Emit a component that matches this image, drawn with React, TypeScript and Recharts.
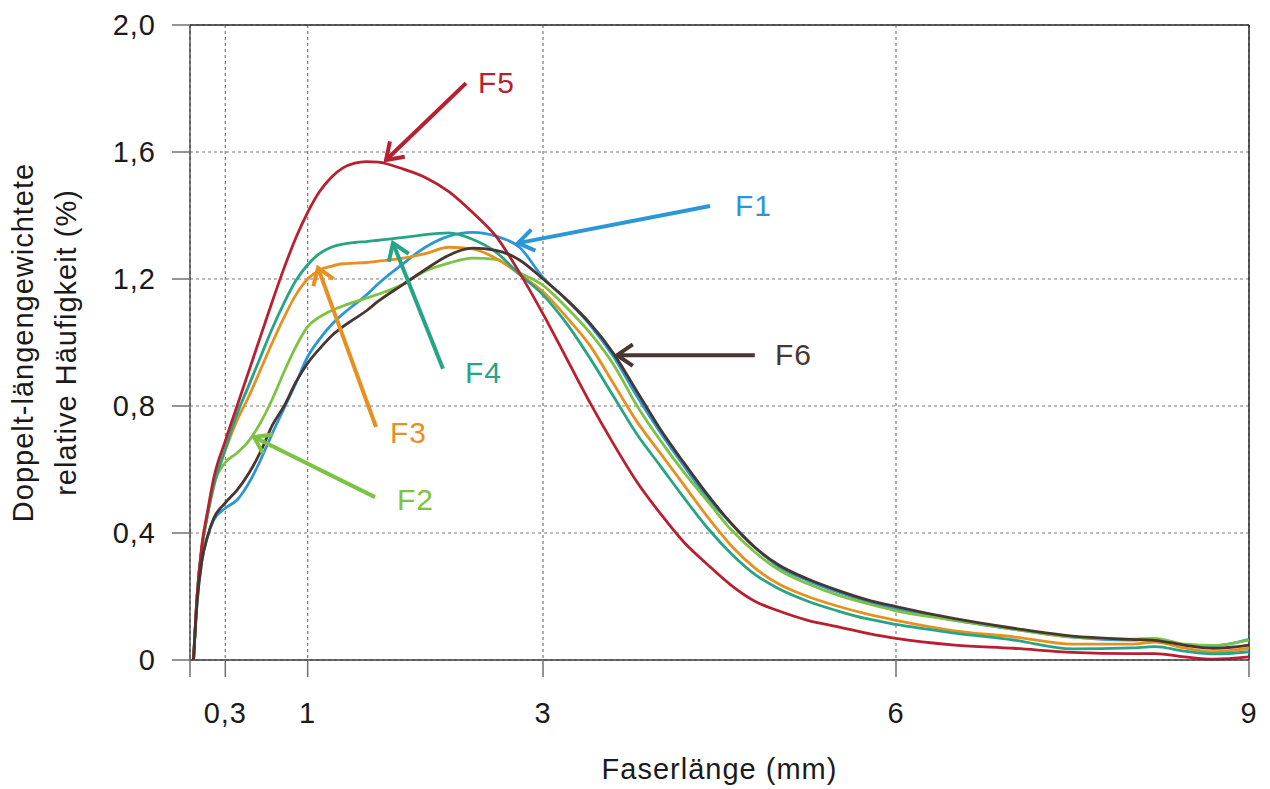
import React from 'react';
import { LineChart, Line, XAxis, YAxis, CartesianGrid, ReferenceLine, ReferenceDot, Label } from 'recharts';

// ---------- data ----------
const fiberLength = [0.03, 0.06, 0.1, 0.15, 0.2, 0.3, 0.4, 0.5, 0.6, 0.7, 0.8, 0.9, 1.0, 1.1, 1.2, 1.3, 1.4, 1.5, 1.6, 1.8, 2.0, 2.2, 2.4, 2.6, 2.8, 3.0, 3.2, 3.4, 3.6, 3.8, 4.0, 4.2, 4.4, 4.6, 4.8, 5.0, 5.25, 5.5, 5.75, 6.0, 6.5, 7.0, 7.5, 8.0, 8.2, 8.45, 8.7, 9.0];

const F1 = [0, 0.18, 0.31, 0.39, 0.44, 0.478, 0.504, 0.557, 0.63, 0.714, 0.793, 0.872, 0.955, 1.01, 1.055, 1.09, 1.12, 1.15, 1.185, 1.245, 1.3, 1.335, 1.347, 1.335, 1.3, 1.205, 1.135, 1.055, 0.955, 0.83, 0.715, 0.61, 0.51, 0.43, 0.355, 0.295, 0.25, 0.215, 0.185, 0.16, 0.125, 0.097, 0.072, 0.063, 0.064, 0.048, 0.045, 0.065];
const F2 = [0, 0.2, 0.35, 0.46, 0.55, 0.622, 0.652, 0.69, 0.748, 0.822, 0.908, 0.987, 1.05, 1.08, 1.1, 1.115, 1.128, 1.14, 1.152, 1.182, 1.225, 1.25, 1.266, 1.262, 1.22, 1.18, 1.11, 1.03, 0.93, 0.8, 0.69, 0.59, 0.5, 0.41, 0.34, 0.285, 0.24, 0.205, 0.178, 0.155, 0.125, 0.097, 0.072, 0.066, 0.068, 0.05, 0.046, 0.063];
const F3 = [0, 0.2, 0.35, 0.46, 0.545, 0.66, 0.755, 0.83, 0.915, 1.0, 1.08, 1.15, 1.2, 1.228, 1.24, 1.248, 1.25, 1.252, 1.256, 1.265, 1.28, 1.3, 1.295, 1.265, 1.215, 1.16, 1.08, 0.99, 0.87, 0.75, 0.65, 0.55, 0.45, 0.36, 0.29, 0.24, 0.2, 0.17, 0.145, 0.125, 0.092, 0.073, 0.05, 0.05, 0.056, 0.038, 0.026, 0.037];
const F4 = [0, 0.2, 0.35, 0.46, 0.546, 0.665, 0.775, 0.865, 0.955, 1.045, 1.125, 1.195, 1.245, 1.28, 1.3, 1.31, 1.315, 1.318, 1.322, 1.33, 1.34, 1.345, 1.325, 1.285, 1.215, 1.15, 1.06, 0.95, 0.83, 0.71, 0.61, 0.51, 0.415, 0.335, 0.27, 0.225, 0.185, 0.155, 0.13, 0.112, 0.085, 0.063, 0.035, 0.038, 0.042, 0.028, 0.019, 0.026];
const F5 = [0, 0.2, 0.36, 0.47, 0.57, 0.69, 0.8, 0.91, 1.02, 1.13, 1.235, 1.33, 1.41, 1.475, 1.52, 1.55, 1.565, 1.57, 1.568, 1.548, 1.52, 1.475, 1.41, 1.335, 1.22, 1.09, 0.95, 0.81, 0.68, 0.56, 0.46, 0.37, 0.3, 0.235, 0.185, 0.155, 0.125, 0.105, 0.085, 0.068, 0.047, 0.037, 0.024, 0.02, 0.02, 0.01, 0.003, 0.01];
const F6 = [0, 0.18, 0.31, 0.39, 0.445, 0.495, 0.535, 0.588, 0.656, 0.74, 0.8, 0.875, 0.935, 0.98, 1.02, 1.05, 1.075, 1.1, 1.13, 1.18, 1.23, 1.275, 1.297, 1.29, 1.26, 1.2, 1.135, 1.06, 0.965, 0.845, 0.725, 0.62, 0.52, 0.43, 0.355, 0.3, 0.255, 0.22, 0.19, 0.168, 0.13, 0.1, 0.075, 0.065, 0.062, 0.047, 0.037, 0.047];

const seriesNames = ['F1', 'F2', 'F3', 'F4', 'F5', 'F6'];
const seriesValues = [F1, F2, F3, F4, F5, F6];

const xTicks = [0, 0.3, 1, 3, 6, 9];
const yTicks = [0, 0.4, 0.8, 1.2, 1.6, 2.0];

// annotation arrows in data units: tail (x,y) -> head (x,y), label anchor (x, baseline y)
const arrowNames = ['F5', 'F1', 'F6', 'F4', 'F3', 'F2'];
const arrowTail = [[2.346, 1.817], [4.42, 1.43], [4.80, 0.96], [2.15, 0.917], [1.581, 0.734], [1.572, 0.513]];
const arrowHead = [[1.666, 1.575], [2.787, 1.313], [3.63, 0.96], [1.725, 1.313], [1.088, 1.235], [0.544, 0.702]];
const labelAnchor = [[2.448, 1.786], [4.632, 1.398], [4.972, 0.929], [2.337, 0.872], [1.70, 0.683], [1.759, 0.472]];

// ---------- styles ----------
const colors: Record<string, string> = {
  F1: '#2B96D8',
  F2: '#7CC243',
  F3: '#E8901F',
  F4: '#25A585',
  F5: '#B82030',
  F6: '#4A3630',
};
const FONT = '"Liberation Sans", Arial, Helvetica, sans-serif';
const TEXT_SIZE = 29;

const rows = fiberLength.map((x, i) => {
  const r: Record<string, number> = { x };
  seriesNames.forEach((n, k) => { r[n] = seriesValues[k][i]; });
  return r;
});

const fmtX = (v: number) => (v === 0 ? '' : String(v).replace('.', ','));
const fmtY = (v: number) => (v === 0 ? '0' : v.toFixed(1).replace('.', ','));

const makeArrow = (color: string) => (props: any) => {
  const { x1, y1, x2, y2 } = props;
  const ang = Math.atan2(y2 - y1, x2 - x1);
  const len = 19;
  const spread = 0.6;
  const ax = x2 - len * Math.cos(ang - spread);
  const ay = y2 - len * Math.sin(ang - spread);
  const bx = x2 - len * Math.cos(ang + spread);
  const by = y2 - len * Math.sin(ang + spread);
  return (
    <g>
      <line x1={x1} y1={y1} x2={x2} y2={y2} stroke={color} strokeWidth={4} strokeLinecap="butt" />
      <polyline points={`${ax},${ay} ${x2},${y2} ${bx},${by}`} fill="none" stroke={color} strokeWidth={4} strokeLinejoin="miter" />
    </g>
  );
};

const makeText = (text: string, color: string) => (props: any) => (
  <text x={props.cx} y={props.cy} fill={color} fontSize={TEXT_SIZE + 1} fontFamily={FONT} style={{ letterSpacing: 1 }}>
    {text}
  </text>
);

const YTitle = (props: any) => {
  const vb = props.viewBox || { x: 90, y: 25, width: 100, height: 635 };
  const cx = vb.x - 57;
  const cy = vb.y + vb.height / 2;
  return (
    <text x={cx} y={cy} transform={`rotate(-90 ${cx} ${cy})`} textAnchor="middle" fill="#1a1a1a" fontSize={TEXT_SIZE} fontFamily={FONT} style={{ letterSpacing: 1 }}>
      <tspan x={cx} dy={0}>Doppelt-längengewichtete</tspan>
      <tspan x={cx} dy={43}>relative Häufigkeit (%)</tspan>
    </text>
  );
};

const XTitle = (props: any) => {
  const vb = props.viewBox || { x: 190, y: 660, width: 1059, height: 100 };
  return (
    <text x={vb.x + vb.width / 2} y={vb.y + 119} textAnchor="middle" fill="#1a1a1a" fontSize={TEXT_SIZE} fontFamily={FONT} style={{ letterSpacing: 1 }}>
      Faserlänge (mm)
    </text>
  );
};

export default function App() {
  return (
    <div style={{ width: 1270, height: 789, background: '#fff' }}>
      <style>{'html,body{margin:0;padding:0;overflow:hidden;background:#fff}'}</style>
      <LineChart width={1270} height={789} data={rows} margin={{ top: 25, right: 21, bottom: 29, left: 90 }}>
        <CartesianGrid stroke="#7a7a7a" strokeDasharray="3 3" strokeWidth={1.2} />
        <XAxis
          dataKey="x"
          type="number"
          domain={[0, 9]}
          ticks={xTicks}
          interval={0}
          tickFormatter={fmtX}
          height={100}
          tickSize={17}
          tickMargin={25}
          axisLine={{ stroke: '#3a3a3a', strokeWidth: 1.3 }}
          tickLine={{ stroke: '#707070', strokeWidth: 1.5 }}
          tick={{ fill: '#1a1a1a', fontSize: TEXT_SIZE, fontFamily: FONT, style: { letterSpacing: 1 } }}
        >
          <Label content={<XTitle />} />
        </XAxis>
        <YAxis
          type="number"
          domain={[0, 2]}
          ticks={yTicks}
          interval={0}
          tickFormatter={fmtY}
          width={100}
          tickSize={18}
          tickMargin={16}
          axisLine={{ stroke: '#3a3a3a', strokeWidth: 1.3 }}
          tickLine={{ stroke: '#707070', strokeWidth: 1.5 }}
          tick={{ fill: '#1a1a1a', fontSize: TEXT_SIZE, fontFamily: FONT, style: { letterSpacing: 1 } }}
        >
          <Label content={<YTitle />} />
        </YAxis>
        <ReferenceLine y={2} stroke="#2a2a2a" strokeWidth={1.5} />
        <ReferenceLine x={9} stroke="#2a2a2a" strokeWidth={1.5} />
        {seriesNames.map((n) => (
          <Line
            key={n}
            dataKey={n}
            type="monotone"
            stroke={colors[n]}
            strokeWidth={2.8}
            dot={false}
            activeDot={false}
            isAnimationActive={false}
          />
        ))}
        {arrowNames.map((n, i) => (
          <ReferenceLine
            key={'a' + n}
            segment={[
              { x: arrowTail[i][0], y: arrowTail[i][1] },
              { x: arrowHead[i][0], y: arrowHead[i][1] },
            ]}
            stroke={colors[n]}
            shape={makeArrow(colors[n])}
          />
        ))}
        {arrowNames.map((n, i) => (
          <ReferenceDot
            key={'t' + n}
            x={labelAnchor[i][0]}
            y={labelAnchor[i][1]}
            r={1}
            shape={makeText(n, colors[n])}
          />
        ))}
      </LineChart>
    </div>
  );
}
